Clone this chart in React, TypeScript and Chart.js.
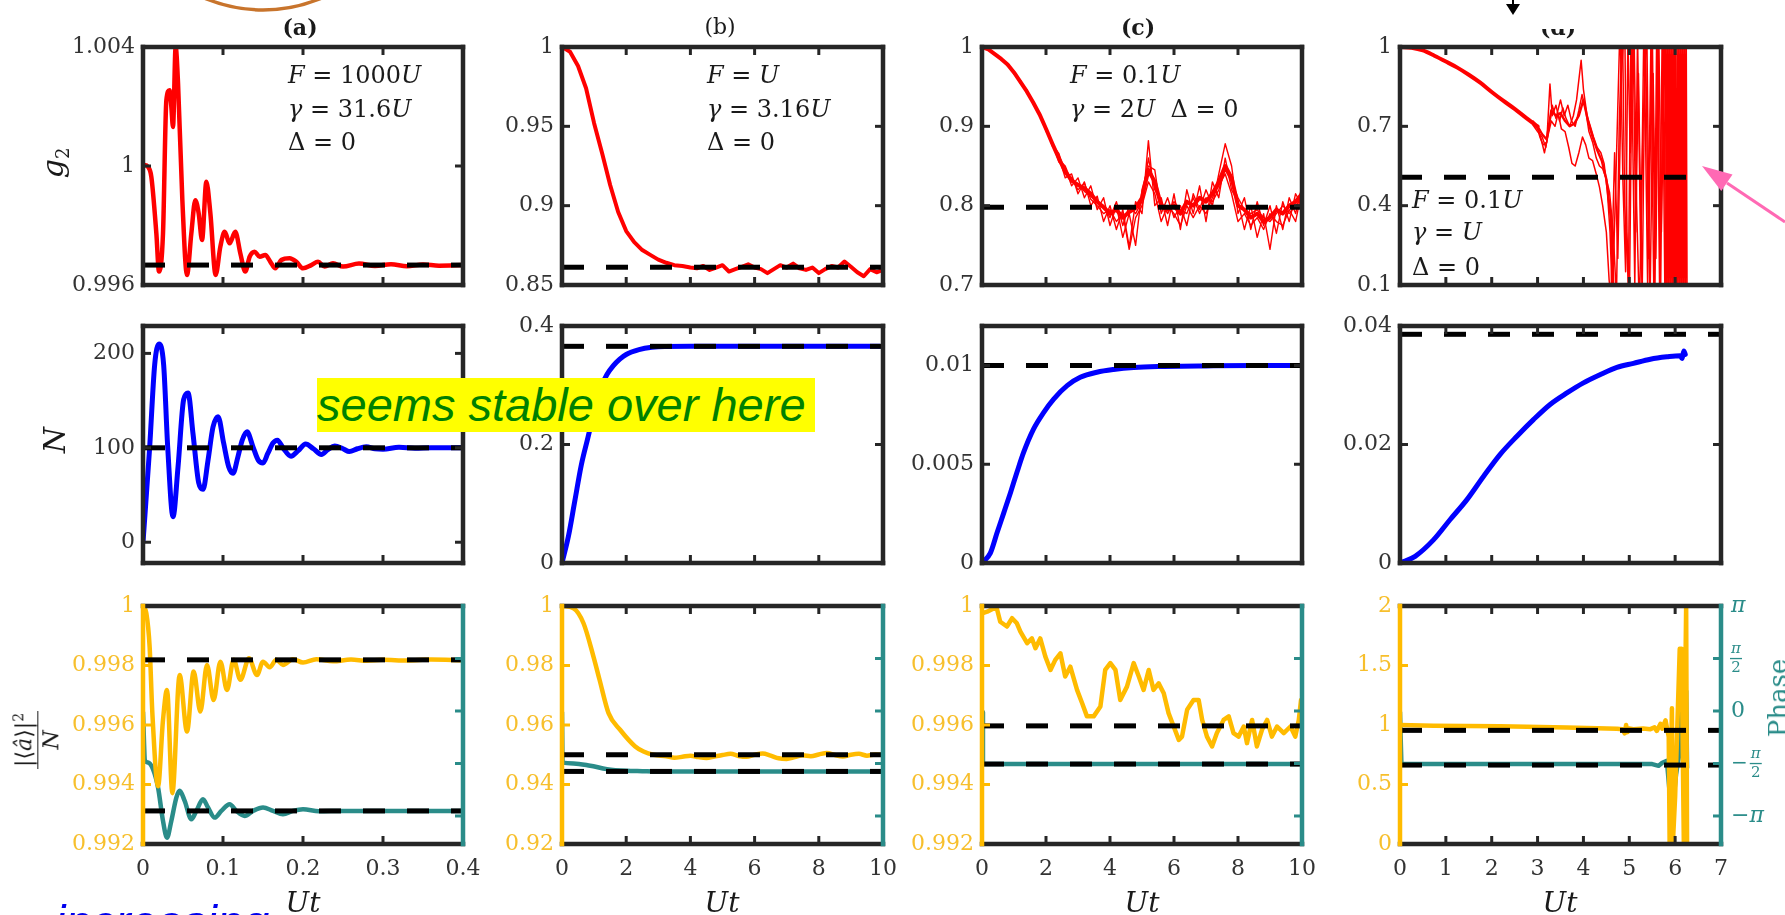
import React, { useEffect, useRef } from "react";
import { Chart, registerables } from "chart.js";

Chart.register(...registerables);

// ---------------- layout (plot boxes, px) ----------------
const COL_L = [143, 562, 982, 1400];
const COL_R = [463, 883, 1302, 1721];
const ROW_T = [47, 326, 606];
const ROW_B = [285, 563, 844];
const PL = 100, PR = 70, PT = 22, PB = 52;

const RED = "#ff0000", BLUE = "#0000ff", YEL = "#ffbb00", YEL_TXT = "#f7bf2c", TEAL = "#2a8c89";
const FRAME = "#262626", TXT = "#333333", INK = "#1a1a1a", BLACK = "#000000";
const SERIF = '"DejaVu Serif", serif';
const PI = Math.PI;

// ---------------- ticks ----------------
const xTicksA = [0, 0.1, 0.2, 0.3, 0.4];
const xLabelsA = ["0", "0.1", "0.2", "0.3", "0.4"];
const xTicksBC = [0, 2, 4, 6, 8, 10];
const xLabelsBC = ["0", "2", "4", "6", "8", "10"];
const xTicksD = [0, 1, 2, 3, 4, 5, 6, 7];
const xLabelsD = ["0", "1", "2", "3", "4", "5", "6", "7"];

const yTicksA1 = [0.996, 1, 1.004], yLabelsA1 = ["0.996", "1", "1.004"];
const yTicksB1 = [0.85, 0.9, 0.95, 1], yLabelsB1 = ["0.85", "0.9", "0.95", "1"];
const yTicksC1 = [0.7, 0.8, 0.9, 1], yLabelsC1 = ["0.7", "0.8", "0.9", "1"];
const yTicksD1 = [0.1, 0.4, 0.7, 1], yLabelsD1 = ["0.1", "0.4", "0.7", "1"];
const yTicksA2 = [0, 100, 200], yLabelsA2 = ["0", "100", "200"];
const yTicksB2 = [0, 0.2, 0.4], yLabelsB2 = ["0", "0.2", "0.4"];
const yTicksC2 = [0, 0.005, 0.01], yLabelsC2 = ["0", "0.005", "0.01"];
const yTicksD2 = [0, 0.02, 0.04], yLabelsD2 = ["0", "0.02", "0.04"];
const yTicksA3 = [0.992, 0.994, 0.996, 0.998, 1], yLabelsA3 = ["0.992", "0.994", "0.996", "0.998", "1"];
const yTicksB3 = [0.92, 0.94, 0.96, 0.98, 1], yLabelsB3 = ["0.92", "0.94", "0.96", "0.98", "1"];
const yTicksD3 = [0, 0.5, 1, 1.5, 2], yLabelsD3 = ["0", "0.5", "1", "1.5", "2"];
const phaseTicks = [PI, PI / 2, 0, -PI / 2, -PI];
const phaseLabels = ["π", "π/2", "0", "−π/2", "−π"];
const PHASE_MIN = -3.98;

// ---------------- reference (dashed) levels ----------------
const refA1 = 0.99667, refB1 = 0.8612, refC1 = 0.798, refD1 = 0.507;
const refA2 = 100, refB2 = 0.3657, refC2 = 0.01, refD2 = 0.0386;
const refA3y = 0.99819, refA3p = -2.99, refB3y = 0.95, refB3p = -1.808;
const refC3y = 0.99597, refC3p = -1.588, refD3y = 0.955, refD3p = -1.618;

// ---------------- (a) g2 ----------------
const tA1 = [0, 0.0021, 0.0063, 0.0104, 0.0167, 0.02, 0.025, 0.0292, 0.0333, 0.0354, 0.0375, 0.0408, 0.0438, 0.0492, 0.055, 0.0604, 0.0654, 0.0696, 0.0738, 0.0792, 0.0842, 0.0908, 0.0967, 0.1021, 0.1083, 0.1154, 0.1217, 0.1279, 0.1333, 0.1396, 0.1458, 0.1529, 0.1592, 0.1654, 0.1729, 0.1833, 0.1917, 0.2, 0.2104, 0.2188, 0.2271, 0.2375, 0.25, 0.27, 0.29, 0.31, 0.33, 0.35, 0.37, 0.4];
const gA1 = [0.99998, 1.00003, 0.99997, 0.99964, 0.99773, 0.99645, 0.99773, 1.00221, 1.00255, 1.002, 1.00131, 1.004, 1.00277, 0.99885, 0.99634, 0.99773, 0.99885, 0.99841, 0.99751, 0.99947, 0.99841, 0.99634, 0.99729, 0.99779, 0.9974, 0.99779, 0.99706, 0.99645, 0.99695, 0.99712, 0.99695, 0.99701, 0.99678, 0.99656, 0.99684, 0.9969, 0.99678, 0.99656, 0.99667, 0.99678, 0.99662, 0.99673, 0.99662, 0.99672, 0.99664, 0.9967, 0.99663, 0.99669, 0.99665, 0.99667];

// ---------------- (b) g2 ----------------
const tB1 = [0, 0.25, 0.5, 0.75, 1, 1.25, 1.5, 1.75, 2, 2.25, 2.5, 2.75, 3, 3.25, 3.5, 3.75, 4, 4.2, 4.4, 4.6, 4.8, 5, 5.2, 5.4, 5.6, 5.8, 6, 6.2, 6.4, 6.6, 6.8, 7, 7.2, 7.4, 7.6, 7.8, 8, 8.2, 8.4, 8.6, 8.8, 9, 9.2, 9.4, 9.6, 9.8, 10];
const gB1 = [1.0, 0.997, 0.988, 0.974, 0.952, 0.933, 0.913, 0.896, 0.884, 0.877, 0.872, 0.869, 0.866, 0.864, 0.8625, 0.862, 0.861, 0.8605, 0.862, 0.8595, 0.861, 0.8625, 0.8585, 0.86, 0.8615, 0.863, 0.861, 0.86, 0.8575, 0.86, 0.8625, 0.861, 0.8635, 0.8605, 0.8595, 0.861, 0.8575, 0.86, 0.862, 0.861, 0.8648, 0.8615, 0.858, 0.8555, 0.86, 0.858, 0.8595];

// ---------------- (c) g2 : mean + trajectories ----------------
const tC1 = [0, 0.2, 0.4, 0.6, 0.8, 1, 1.2, 1.4, 1.6, 1.8, 2, 2.2, 2.4, 2.6, 2.8, 3, 3.2, 3.4, 3.6, 3.8, 4, 4.2, 4.4, 4.6, 4.8, 5, 5.2, 5.4, 5.6, 5.8, 6, 6.2, 6.4, 6.6, 6.8, 7, 7.2, 7.4, 7.6, 7.8, 8, 8.2, 8.4, 8.6, 8.8, 9, 9.2, 9.4, 9.6, 9.8, 10];
const gC1mean = [1.0, 0.997, 0.991, 0.985, 0.978, 0.968, 0.956, 0.944, 0.93, 0.915, 0.897, 0.878, 0.86, 0.843, 0.832, 0.826, 0.822, 0.815, 0.805, 0.798, 0.79, 0.795, 0.785, 0.792, 0.797, 0.81, 0.845, 0.83, 0.8, 0.795, 0.8, 0.79, 0.805, 0.8, 0.81, 0.805, 0.815, 0.83, 0.85, 0.835, 0.8, 0.795, 0.785, 0.79, 0.78, 0.785, 0.795, 0.79, 0.8, 0.805, 0.815];
const gC1tr1 = [1.0, 0.996, 0.992, 0.984, 0.979, 0.967, 0.957, 0.942, 0.932, 0.913, 0.899, 0.875, 0.862, 0.835, 0.84, 0.815, 0.83, 0.8, 0.812, 0.78, 0.8, 0.77, 0.795, 0.748, 0.805, 0.79, 0.882, 0.8, 0.81, 0.775, 0.815, 0.77, 0.82, 0.79, 0.825, 0.78, 0.83, 0.81, 0.86, 0.82, 0.805, 0.77, 0.8, 0.76, 0.79, 0.745, 0.8, 0.77, 0.81, 0.79, 0.825];
const gC1tr2 = [1.0, 0.998, 0.99, 0.986, 0.976, 0.969, 0.954, 0.945, 0.928, 0.917, 0.894, 0.88, 0.855, 0.848, 0.825, 0.835, 0.81, 0.825, 0.795, 0.81, 0.775, 0.8, 0.76, 0.79, 0.75, 0.82, 0.85, 0.845, 0.79, 0.81, 0.785, 0.8, 0.775, 0.815, 0.795, 0.82, 0.8, 0.84, 0.878, 0.85, 0.79, 0.81, 0.77, 0.805, 0.775, 0.8, 0.765, 0.805, 0.78, 0.815, 0.8];
const gC1tr3 = [1.0, 0.997, 0.991, 0.985, 0.978, 0.966, 0.958, 0.943, 0.931, 0.914, 0.898, 0.877, 0.866, 0.84, 0.835, 0.82, 0.828, 0.808, 0.8, 0.79, 0.795, 0.78, 0.79, 0.745, 0.785, 0.8, 0.83, 0.815, 0.78, 0.8, 0.79, 0.775, 0.8, 0.785, 0.8, 0.79, 0.81, 0.825, 0.84, 0.815, 0.78, 0.79, 0.775, 0.785, 0.77, 0.79, 0.78, 0.775, 0.795, 0.78, 0.82];
const gC1tr4 = [1.0, 0.997, 0.99, 0.985, 0.977, 0.969, 0.955, 0.946, 0.929, 0.916, 0.896, 0.879, 0.858, 0.85, 0.83, 0.828, 0.818, 0.812, 0.805, 0.8, 0.785, 0.805, 0.775, 0.8, 0.79, 0.805, 0.86, 0.82, 0.805, 0.79, 0.805, 0.795, 0.79, 0.81, 0.79, 0.81, 0.805, 0.82, 0.845, 0.83, 0.81, 0.795, 0.79, 0.795, 0.785, 0.78, 0.79, 0.8, 0.79, 0.8, 0.81];

// ---------------- (d) g2 : mean + trajectories ----------------
const tD1s = [0, 0.25, 0.5, 0.75, 1, 1.25, 1.5, 1.75, 2, 2.25, 2.5, 2.75, 3];
const gD1s = [1, 0.997, 0.987, 0.967, 0.945, 0.922, 0.895, 0.865, 0.83, 0.797, 0.766, 0.732, 0.7];
const tD1t0 = [3, 3.1, 3.2, 3.3, 3.4, 3.5, 3.6, 3.7, 3.8, 3.9, 4, 4.1, 4.2, 4.3, 4.4, 4.5, 4.6, 4.65];
const gD1t0 = [0.7, 0.67, 0.65, 0.76, 0.74, 0.75, 0.72, 0.7, 0.71, 0.74, 0.8, 0.72, 0.66, 0.61, 0.57, 0.5, 0.35, 0.1];
const tD1a = [2.9, 3.0, 3.05, 3.12, 3.2, 3.27, 3.32, 3.4, 3.48, 3.55, 3.62, 3.7, 3.78, 3.85, 3.95, 4.0, 4.08, 4.15, 4.22, 4.3, 4.38, 4.45, 4.52, 4.58, 4.63, 4.7, 4.8, 4.86, 4.92, 4.97, 5.02, 5.08, 5.14, 5.2, 5.28, 5.35, 5.42, 5.5, 5.56, 5.62, 5.68, 5.74, 5.8];
const gD1a = [0.71, 0.69, 0.66, 0.63, 0.64, 0.86, 0.74, 0.78, 0.72, 0.77, 0.73, 0.7, 0.74, 0.8, 0.95, 0.84, 0.74, 0.7, 0.66, 0.62, 0.6, 0.56, 0.46, 0.3, 0.05, 0.45, 1.1, 0.5, 0.15, 1.05, 0.6, 1.1, 0.3, 0.9, 0.05, 1.1, 0.2, 1.1, 0.1, 1.05, 0.0, 1.1, 0.05];
const tD1b = [2.9, 3.0, 3.08, 3.15, 3.22, 3.3, 3.38, 3.45, 3.52, 3.6, 3.68, 3.75, 3.82, 3.9, 3.98, 4.05, 4.12, 4.2, 4.28, 4.35, 4.42, 4.5, 4.56, 4.6, 4.68, 4.75, 4.83, 4.9, 4.95, 5.0, 5.05, 5.1, 5.16, 5.22, 5.3, 5.38, 5.45, 5.52, 5.58, 5.64, 5.7, 5.78, 5.82];
const gD1b = [0.72, 0.7, 0.65, 0.6, 0.66, 0.72, 0.7, 0.75, 0.69, 0.68, 0.62, 0.56, 0.55, 0.6, 0.66, 0.63, 0.58, 0.57, 0.52, 0.47, 0.4, 0.3, 0.12, 0.05, 0.6, 0.2, 0.9, 1.1, 0.3, 0.0, 0.8, 1.1, 0.4, 0.0, 0.7, 1.1, 0.0, 0.9, 0.2, 1.1, 0.3, 1.1, 0.0];
const tD1c = [2.9, 3.0, 3.1, 3.18, 3.25, 3.32, 3.4, 3.5, 3.58, 3.66, 3.74, 3.82, 3.9, 3.97, 4.05, 4.12, 4.2, 4.28, 4.35, 4.42, 4.5, 4.57, 4.65, 4.72, 4.78, 4.85, 4.9, 4.98, 5.04, 5.12, 5.18, 5.25, 5.32, 5.4, 5.47, 5.54, 5.6, 5.66, 5.72, 5.78, 5.84];
const gD1c = [0.705, 0.68, 0.66, 0.62, 0.7, 0.78, 0.73, 0.8, 0.74, 0.78, 0.72, 0.7, 0.76, 0.82, 0.76, 0.68, 0.64, 0.58, 0.55, 0.54, 0.5, 0.45, 0.3, 0.05, 0.7, 1.1, 0.4, 0.1, 1.1, 0.1, 1.05, 0.2, 1.1, 0.1, 1.0, 0.0, 1.1, 0.1, 1.1, 0.0, 1.1];
const tD1w = [5.8, 5.82, 5.84, 5.86, 5.88, 5.9, 5.92, 5.94, 5.96, 5.98, 6.0, 6.02, 6.04, 6.06, 6.08, 6.1, 6.12, 6.14, 6.16, 6.18, 6.2, 6.22, 6.24, 6.26];
const gD1w = [1.1, 0.0, 1.1, 0.0, 1.1, 0.0, 1.1, 0.0, 1.1, 0.0, 1.1, 0.0, 1.1, 0.0, 1.1, 0.0, 1.1, 0.0, 1.1, 0.0, 1.1, 0.0, 1.1, 0.0];

// ---------------- N ----------------
const tA2 = [0, 0.0083, 0.0146, 0.02, 0.0258, 0.031, 0.0375, 0.0438, 0.0508, 0.0563, 0.0625, 0.0696, 0.075, 0.0813, 0.0875, 0.0938, 0.1008, 0.1071, 0.1125, 0.1188, 0.124, 0.13, 0.1375, 0.144, 0.15, 0.156, 0.1625, 0.168, 0.175, 0.185, 0.194, 0.2033, 0.213, 0.223, 0.231, 0.2396, 0.25, 0.258, 0.268, 0.279, 0.29, 0.3, 0.32, 0.34, 0.36, 0.4];
const nA2 = [0, 100, 188, 210, 188, 99, 27, 80, 151, 158, 115, 63, 56, 87, 122, 133, 105, 80, 73, 91, 108, 117, 101, 87, 84, 94, 105, 108, 100, 91, 97, 104, 99, 93, 98, 102, 99, 96, 99, 101, 99, 98.5, 100.5, 99.5, 100, 100];
const tB2 = [0, 0.2, 0.4, 0.6, 0.8, 1.0, 1.2, 1.4, 1.6, 1.8, 2.0, 2.4, 2.8, 3.2, 4, 9.9];
const nB2 = [0, 0.045, 0.105, 0.165, 0.21, 0.255, 0.295, 0.318, 0.333, 0.344, 0.352, 0.36, 0.364, 0.3655, 0.3657, 0.3657];
const tC2 = [0, 0.26, 0.47, 0.68, 0.89, 1.09, 1.3, 1.61, 1.93, 2.24, 2.66, 3.07, 3.59, 4.11, 4.74, 5.68, 7, 8.5, 10];
const nC2 = [0, 0.0005, 0.00153, 0.00254, 0.00356, 0.00458, 0.0056, 0.00678, 0.00763, 0.0083, 0.00898, 0.0094, 0.00966, 0.0098, 0.0099, 0.00995, 0.00998, 0.01, 0.01];
const tD2 = [0, 0.33, 0.73, 1.09, 1.46, 1.82, 2.18, 2.55, 2.91, 3.28, 3.64, 4.0, 4.37, 4.73, 5.09, 5.46, 5.82, 6.11, 6.15, 6.19, 6.22];
const nD2 = [0, 0.00113, 0.0039, 0.0073, 0.0107, 0.0146, 0.0183, 0.0214, 0.0242, 0.0268, 0.0287, 0.0304, 0.0318, 0.033, 0.0337, 0.0344, 0.0348, 0.035, 0.0345, 0.0358, 0.0352];

// ---------------- |<a>|^2/N (yellow) and phase (teal) ----------------
const tA3y = [0, 0.0042, 0.0083, 0.0117, 0.0188, 0.025, 0.03, 0.0367, 0.0458, 0.055, 0.0633, 0.0717, 0.08, 0.0883, 0.0967, 0.105, 0.1133, 0.1217, 0.1325, 0.1425, 0.15, 0.1583, 0.1667, 0.175, 0.1875, 0.2, 0.2167, 0.2375, 0.26, 0.28, 0.3, 0.33, 0.36, 0.4];
const vA3y = [1.0, 0.99975, 0.99863, 0.9964, 0.99394, 0.99617, 0.99718, 0.99371, 0.99768, 0.99578, 0.9978, 0.99645, 0.99802, 0.99684, 0.99813, 0.99718, 0.99819, 0.99752, 0.99824, 0.99768, 0.99813, 0.99794, 0.99819, 0.99802, 0.99821, 0.9981, 0.99821, 0.99814, 0.9982, 0.99816, 0.99819, 0.99817, 0.9982, 0.99818];
const tA3p = [0, 0.0025, 0.0063, 0.0125, 0.0188, 0.025, 0.03, 0.0354, 0.0417, 0.0458, 0.0521, 0.0604, 0.0667, 0.075, 0.0813, 0.0896, 0.0979, 0.1083, 0.1167, 0.1271, 0.1375, 0.15, 0.1625, 0.175, 0.1875, 0.2, 0.22, 0.25, 0.3, 0.4];
const pA3 = [-0.035, -1.488, -1.54, -1.74, -2.29, -3.29, -3.79, -3.29, -2.59, -2.39, -2.69, -3.24, -2.99, -2.64, -2.89, -3.19, -2.99, -2.79, -2.99, -3.14, -2.99, -2.89, -2.99, -3.09, -2.99, -2.94, -3.0, -2.99, -2.99, -2.99];

const tB3y = [0, 0.36, 0.67, 0.98, 1.17, 1.45, 1.81, 2.28, 2.54, 2.85, 3.25, 3.5, 3.75, 4, 4.25, 4.5, 4.75, 5, 5.25, 5.5, 5.75, 6, 6.25, 6.5, 6.75, 7, 7.25, 7.5, 7.75, 8, 8.25, 8.5, 8.75, 9, 9.25, 9.5, 9.75, 10];
const vB3y = [1.0, 0.9992, 0.9942, 0.983, 0.9752, 0.964, 0.9584, 0.9528, 0.9511, 0.95, 0.9495, 0.949, 0.9493, 0.9497, 0.9492, 0.9489, 0.9494, 0.9499, 0.9503, 0.9496, 0.9493, 0.95, 0.9504, 0.9497, 0.9488, 0.9486, 0.9492, 0.9498, 0.9495, 0.9501, 0.9506, 0.9499, 0.9494, 0.95, 0.9503, 0.9497, 0.9501, 0.9499];
const tB3p = [0, 0.02, 0.36, 0.88, 1.4, 2.0, 2.5, 3, 10];
const pB3 = [-0.035, -1.538, -1.568, -1.638, -1.74, -1.79, -1.8, -1.808, -1.808];

const tC3y = [0, 0.16, 0.36, 0.47, 0.57, 0.78, 0.94, 1.09, 1.2, 1.41, 1.56, 1.67, 1.82, 1.98, 2.14, 2.29, 2.45, 2.6, 2.76, 2.97, 3.13, 3.28, 3.49, 3.7, 3.85, 4.01, 4.17, 4.32, 4.53, 4.74, 4.9, 5.05, 5.21, 5.36, 5.52, 5.68, 5.83, 5.99, 6.15, 6.25, 6.41, 6.61, 6.77, 6.88, 7.03, 7.19, 7.34, 7.55, 7.71, 7.86, 8.02, 8.18, 8.28, 8.44, 8.59, 8.75, 8.91, 9.06, 9.22, 9.43, 9.64, 9.79, 9.9, 9.97];
const vC3y = [0.99975, 0.99981, 0.99992, 0.99989, 0.99947, 0.99931, 0.99959, 0.99942, 0.99914, 0.99875, 0.99891, 0.99858, 0.99891, 0.9983, 0.99785, 0.99819, 0.99841, 0.99763, 0.99796, 0.99718, 0.99673, 0.99629, 0.99629, 0.99662, 0.99785, 0.99808, 0.99785, 0.99684, 0.99729, 0.99808, 0.99763, 0.99718, 0.99785, 0.99718, 0.9974, 0.99707, 0.9964, 0.99595, 0.9955, 0.99561, 0.99651, 0.99684, 0.99684, 0.99617, 0.99561, 0.99528, 0.99573, 0.99617, 0.99629, 0.99573, 0.99561, 0.99595, 0.99539, 0.99617, 0.99528, 0.99584, 0.99617, 0.99561, 0.99595, 0.99573, 0.99595, 0.99561, 0.99617, 0.99684];
const tC3p = [0, 0.03, 10];
const pC3 = [-0.035, -1.588, -1.588];

const tD3y = [0, 0.73, 2.18, 3.64, 4.73, 4.85, 4.9, 4.93, 4.96, 5.0, 5.09, 5.3, 5.46, 5.55, 5.6, 5.68, 5.72, 5.79, 5.82, 5.86, 5.88, 5.93, 5.95, 6.0, 6.1, 6.12, 6.14, 6.19, 6.21, 6.24, 6.26];
const vD3y = [1.0, 0.994, 0.989, 0.98, 0.969, 0.965, 0.93, 1.0, 0.94, 0.97, 0.965, 0.97, 0.965, 0.98, 0.95, 1.01, 0.97, 1.04, 0.98, 0.9, 0.0, 1.14, 0.0, 0.4, 1.64, 1.35, 1.64, 0.0, 1.0, 2.0, 0.0];
const tD3p = [0, 0.03, 5.5, 5.64, 5.72, 5.82, 5.88, 5.91, 5.95, 5.98, 6.02, 6.1, 6.19, 6.21, 6.24, 6.26];
const pD3 = [-0.035, -1.588, -1.588, -1.64, -1.55, -1.49, -2.44, -1.5, -1.7, -2.44, -1.9, -1.2, 1.47, -2.39, 0.6, -1.7];

// ---------------- types & helpers ----------------
type Series = { xs: number[]; ys: number[]; color: string; width: number; dash?: boolean; smooth?: boolean; axis?: "y" | "y2" };
type Spec = {
  col: number; row: number;
  xMin: number; xMax: number; xTicks: number[]; xLabels?: string[];
  yMin: number; yMax: number; yTicks: number[]; yLabels: string[];
  y2?: { min: number; max: number; ticks: number[]; labels?: string[] };
  series: Series[];
};

const ref = (x0: number, x1: number, v: number, axis: "y" | "y2" = "y"): Series => ({ xs: [x0, x1], ys: [v, v], color: BLACK, width: 5, dash: true, axis });
const ln = (xs: number[], ys: number[], color: string, width: number, smooth = true, axis: "y" | "y2" = "y"): Series => ({ xs, ys, color, width, smooth, axis });

const PH = { min: PHASE_MIN, max: PI, ticks: phaseTicks };

const PANELS: Spec[] = [
  { col: 0, row: 0, xMin: 0, xMax: 0.4, xTicks: xTicksA, yMin: 0.996, yMax: 1.004, yTicks: yTicksA1, yLabels: yLabelsA1,
    series: [ref(0, 0.4, refA1), ln(tA1, gA1, RED, 4.5)] },
  { col: 1, row: 0, xMin: 0, xMax: 10, xTicks: xTicksBC, yMin: 0.85, yMax: 1, yTicks: yTicksB1, yLabels: yLabelsB1,
    series: [ref(0, 10, refB1), ln(tB1, gB1, RED, 4, false)] },
  { col: 2, row: 0, xMin: 0, xMax: 10, xTicks: xTicksBC, yMin: 0.7, yMax: 1, yTicks: yTicksC1, yLabels: yLabelsC1,
    series: [ref(0, 10, refC1), ln(tC1, gC1mean, RED, 4, false), ln(tC1, gC1tr1, RED, 1.4, false), ln(tC1, gC1tr2, RED, 1.4, false), ln(tC1, gC1tr3, RED, 1.4, false), ln(tC1, gC1tr4, RED, 1.4, false)] },
  { col: 3, row: 0, xMin: 0, xMax: 7, xTicks: xTicksD, yMin: 0.1, yMax: 1, yTicks: yTicksD1, yLabels: yLabelsD1,
    series: [ref(0, 6.35, refD1), ln(tD1s, gD1s, RED, 4), ln(tD1t0, gD1t0, RED, 2.4, false), ln(tD1a, gD1a, RED, 1.5, false), ln(tD1b, gD1b, RED, 1.5, false), ln(tD1c, gD1c, RED, 1.5, false), ln(tD1w, gD1w, RED, 1.6, false)] },

  { col: 0, row: 1, xMin: 0, xMax: 0.4, xTicks: xTicksA, yMin: -22, yMax: 229, yTicks: yTicksA2, yLabels: yLabelsA2,
    series: [ref(0, 0.4, refA2), ln(tA2, nA2, BLUE, 5)] },
  { col: 1, row: 1, xMin: 0, xMax: 10, xTicks: xTicksBC, yMin: 0, yMax: 0.4, yTicks: yTicksB2, yLabels: yLabelsB2,
    series: [ref(0, 10, refB2), ln(tB2, nB2, BLUE, 5)] },
  { col: 2, row: 1, xMin: 0, xMax: 10, xTicks: xTicksBC, yMin: 0, yMax: 0.012, yTicks: yTicksC2, yLabels: yLabelsC2,
    series: [ref(0, 10, refC2), ln(tC2, nC2, BLUE, 5)] },
  { col: 3, row: 1, xMin: 0, xMax: 7, xTicks: xTicksD, yMin: 0, yMax: 0.04, yTicks: yTicksD2, yLabels: yLabelsD2,
    series: [ref(0, 7, refD2), ln(tD2, nD2, BLUE, 5)] },

  { col: 0, row: 2, xMin: 0, xMax: 0.4, xTicks: xTicksA, xLabels: xLabelsA, yMin: 0.992, yMax: 1, yTicks: yTicksA3, yLabels: yLabelsA3, y2: PH,
    series: [ref(0, 0.4, refA3y), ref(0, 0.4, refA3p, "y2"), ln(tA3y, vA3y, YEL, 4.5), ln(tA3p, pA3, TEAL, 4.5, true, "y2")] },
  { col: 1, row: 2, xMin: 0, xMax: 10, xTicks: xTicksBC, xLabels: xLabelsBC, yMin: 0.92, yMax: 1, yTicks: yTicksB3, yLabels: yLabelsB3, y2: PH,
    series: [ref(0, 10, refB3y), ref(0, 10, refB3p, "y2"), ln(tB3y, vB3y, YEL, 4.5), ln(tB3p, pB3, TEAL, 4.5, true, "y2")] },
  { col: 2, row: 2, xMin: 0, xMax: 10, xTicks: xTicksBC, xLabels: xLabelsBC, yMin: 0.992, yMax: 1, yTicks: yTicksA3, yLabels: yLabelsA3, y2: PH,
    series: [ref(0, 10, refC3y), ref(0, 10, refC3p, "y2"), ln(tC3y, vC3y, YEL, 4.5, false), ln(tC3p, pC3, TEAL, 4.5, false, "y2")] },
  { col: 3, row: 2, xMin: 0, xMax: 7, xTicks: xTicksD, xLabels: xLabelsD, yMin: 0, yMax: 2, yTicks: yTicksD3, yLabels: yLabelsD3, y2: { ...PH, labels: phaseLabels },
    series: [ref(0, 7, refD3y), ref(0, 7, refD3p, "y2"), ln(tD3y, vD3y, YEL, 4.5, false), ln(tD3p, pD3, TEAL, 4.5, false, "y2")] },
];

function makeFrame(s: Spec) {
  const lower = s.row === 2;
  const c = lower ? { top: FRAME, bottom: FRAME, left: YEL, right: TEAL } : { top: FRAME, bottom: FRAME, left: FRAME, right: FRAME };
  return {
    id: "frame",
    afterDatasetsDraw(chart: any) {
      const { ctx, chartArea: a, scales } = chart;
      const TL = 8;
      const seg = (x1: number, y1: number, x2: number, y2: number, col: string, w: number) => {
        ctx.strokeStyle = col; ctx.lineWidth = w; ctx.beginPath(); ctx.moveTo(x1, y1); ctx.lineTo(x2, y2); ctx.stroke();
      };
      ctx.save();
      ctx.lineCap = "butt";
      for (const v of s.xTicks) {
        const px = scales.x.getPixelForValue(v);
        seg(px, a.bottom, px, a.bottom - TL, c.bottom, 3);
        seg(px, a.top, px, a.top + TL, c.top, 3);
      }
      for (const v of s.yTicks) {
        const py = scales.y.getPixelForValue(v);
        seg(a.left, py, a.left + TL, py, c.left, 3);
        if (!s.y2) seg(a.right, py, a.right - TL, py, c.right, 3);
      }
      if (s.y2) {
        for (const v of s.y2.ticks) {
          const py = scales.y2.getPixelForValue(v);
          seg(a.right, py, a.right - TL, py, c.right, 3);
        }
      }
      const W = 4.5, h = W / 2;
      seg(a.left - h, a.top, a.right + h, a.top, c.top, W);
      seg(a.left - h, a.bottom, a.right + h, a.bottom, c.bottom, W);
      seg(a.left, a.top - h, a.left, a.bottom + h, c.left, W);
      seg(a.right, a.top - h, a.right, a.bottom + h, c.right, W);
      if (s.y2 && s.y2.labels) {
        ctx.fillStyle = TEAL;
        ctx.textBaseline = "middle";
        s.y2.ticks.forEach((v, i) => {
          const lab = s.y2!.labels![i];
          const py = scales.y2.getPixelForValue(v);
          let x = a.right + 10;
          ctx.textAlign = "left";
          if (lab.includes("/")) {
            let [num, den] = lab.split("/");
            if (num.startsWith("−")) {
              ctx.font = `20px ${SERIF}`;
              ctx.fillText("−", x, py);
              x += ctx.measureText("−").width + 3;
              num = num.slice(1);
            }
            ctx.font = `italic 15px ${SERIF}`;
            const w = Math.max(ctx.measureText(num).width, 10);
            ctx.textAlign = "center";
            ctx.fillText(num, x + w / 2, py - 9);
            ctx.font = `15px ${SERIF}`;
            ctx.fillText(den, x + w / 2, py + 10);
            ctx.fillRect(x - 1, py - 0.6, w + 2, 1.3);
          } else {
            ctx.font = lab === "0" ? `22px ${SERIF}` : `italic 22px ${SERIF}`;
            ctx.fillText(lab, x, py);
          }
        });
      }
      ctx.restore();
    },
  };
}

function makeConfig(s: Spec): any {
  const lower = s.row === 2;
  const tickFont = { family: "DejaVu Serif", size: 22 };
  const scales: any = {
    x: {
      type: "linear", min: s.xMin, max: s.xMax,
      afterBuildTicks: (ax: any) => { ax.ticks = s.xTicks.map((v) => ({ value: v })); },
      afterFit: (ax: any) => { ax.height = PB; },
      grid: { display: false, drawTicks: false }, border: { display: false },
      ticks: { display: !!s.xLabels, autoSkip: false, maxRotation: 0, font: tickFont, color: TXT, padding: 12,
        callback: (_v: any, i: number) => (s.xLabels ? s.xLabels[i] : "") },
    },
    y: {
      type: "linear", position: "left", min: s.yMin, max: s.yMax,
      afterBuildTicks: (ax: any) => { ax.ticks = s.yTicks.map((v) => ({ value: v })); },
      afterFit: (ax: any) => { ax.width = PL; },
      grid: { display: false, drawTicks: false }, border: { display: false },
      ticks: { autoSkip: false, font: tickFont, color: lower ? YEL_TXT : TXT, padding: 8, callback: (_v: any, i: number) => s.yLabels[i] },
    },
  };
  if (s.y2) {
    scales.y2 = {
      type: "linear", position: "right", min: s.y2.min, max: s.y2.max,
      afterBuildTicks: (ax: any) => { ax.ticks = s.y2!.ticks.map((v) => ({ value: v })); },
      afterFit: (ax: any) => { ax.width = PR; },
      grid: { display: false, drawTicks: false }, border: { display: false },
      ticks: { display: false },
    };
  }
  const datasets = s.series.map((d) => ({
    data: d.xs.map((x, i) => ({ x, y: d.ys[i] })),
    borderColor: d.color,
    backgroundColor: d.color,
    borderWidth: d.width,
    borderDash: d.dash ? [22, 22] : [],
    borderCapStyle: d.dash ? "butt" : "round",
    borderJoinStyle: "round",
    pointRadius: 0,
    fill: false,
    tension: 0,
    cubicInterpolationMode: d.smooth ? "monotone" : "default",
    yAxisID: d.axis || "y",
    order: d.dash ? 0 : 1,
  }));
  return {
    type: "line",
    data: { datasets },
    options: {
      animation: false,
      responsive: false,
      devicePixelRatio: 1,
      events: [],
      layout: { padding: { top: PT, left: 0, bottom: 0, right: s.y2 ? 0 : PR } },
      plugins: { legend: { display: false }, tooltip: { enabled: false }, title: { display: false } },
      scales,
    },
    plugins: [makeFrame(s)],
  };
}

function Panel({ spec }: { spec: Spec }) {
  const ref = useRef<HTMLCanvasElement | null>(null);
  useEffect(() => {
    if (!ref.current) return;
    const chart = new Chart(ref.current, makeConfig(spec));
    return () => chart.destroy();
  }, [spec]);
  const L = COL_L[spec.col], R = COL_R[spec.col], T = ROW_T[spec.row], B = ROW_B[spec.row];
  const w = PL + (R - L) + PR, h = PT + (B - T) + PB;
  return <canvas ref={ref} width={w} height={h} style={{ position: "absolute", left: L - PL, top: T - PT, width: w, height: h }} />;
}

// ---------------- text overlays ----------------
const I = ({ children }: { children: any }) => <span style={{ fontStyle: "italic" }}>{children}</span>;

function Ann({ left, top, children }: { left: number; top: number; children: any }) {
  return (
    <div style={{ position: "absolute", left, top, fontFamily: SERIF, fontSize: 24, lineHeight: "24px", color: INK, whiteSpace: "nowrap" }}>
      {children}
    </div>
  );
}

function Center({ x, y, size, children, bold, color = INK, rotate = false, font = SERIF }: any) {
  return (
    <div style={{ position: "absolute", left: x, top: y, transform: `translate(-50%,-50%)${rotate ? " rotate(-90deg)" : ""}`, fontFamily: font, fontSize: size, lineHeight: 1, fontWeight: bold ? "bold" : "normal", color, whiteSpace: "nowrap" }}>
      {children}
    </div>
  );
}

const UT_X = [303, 722, 1142, 1560];

export default function App() {
  return (
    <div style={{ position: "fixed", left: 0, top: 0, width: 1785, height: 915, overflow: "hidden", background: "#ffffff" }}>
      {PANELS.map((p, i) => <Panel key={i} spec={p} />)}

      {/* panel titles */}
      <Center x={300} y={27} size={22} bold>(a)</Center>
      <Center x={720} y={27} size={22}>(b)</Center>
      <Center x={1138} y={27} size={22} bold>(c)</Center>
      <Center x={1558} y={27} size={22} bold>(d)</Center>
      <div style={{ position: "absolute", left: 1530, top: 0, width: 60, height: 29, background: "#fff" }} />

      {/* parameter annotations */}
      <Ann left={288} top={63}><I>F</I> = 1000<I>U</I></Ann>
      <Ann left={288} top={97}><I>γ</I> = 31.6<I>U</I></Ann>
      <Ann left={288} top={130}>Δ = 0</Ann>
      <Ann left={707} top={63}><I>F</I> = <I>U</I></Ann>
      <Ann left={707} top={97}><I>γ</I> = 3.16<I>U</I></Ann>
      <Ann left={707} top={130}>Δ = 0</Ann>
      <Ann left={1070} top={63}><I>F</I> = 0.1<I>U</I></Ann>
      <Ann left={1070} top={97}><I>γ</I> = 2<I>U</I>{"\u00a0\u00a0"}Δ = 0</Ann>
      <Ann left={1412} top={188}><I>F</I> = 0.1<I>U</I></Ann>
      <Ann left={1412} top={220}><I>γ</I> = <I>U</I></Ann>
      <Ann left={1412} top={255}>Δ = 0</Ann>

      {/* y-axis titles */}
      <Center x={55} y={163} size={30} rotate><I>g</I><span style={{ fontSize: 18, verticalAlign: "-6px" }}>2</span></Center>
      <Center x={55} y={440} size={30} rotate><I>N</I></Center>
      <Center x={37} y={740} size={22} rotate>
        <div style={{ display: "inline-flex", flexDirection: "column", alignItems: "center" }}>
          <span style={{ borderBottom: `1.5px solid ${INK}`, padding: "0 2px 2px 2px" }}>|⟨<I>â</I>⟩|<sup style={{ fontSize: 14 }}>2</sup></span>
          <span style={{ paddingTop: 2 }}><I>N</I></span>
        </div>
      </Center>
      <Center x={1778} y={698} size={26} rotate color={TEAL}>Phase</Center>

      {/* x-axis titles */}
      {UT_X.map((x, i) => <Center key={i} x={x} y={903} size={28}><I>Ut</I></Center>)}

      {/* overlaid markup */}
      <div style={{ position: "absolute", left: 317, top: 378, width: 498, height: 54, background: "#ffff00", color: "#008000", fontFamily: '"Liberation Sans", Arial, sans-serif', fontStyle: "italic", fontSize: 47, lineHeight: "54px", whiteSpace: "nowrap", overflow: "hidden" }}>
        seems stable over here
      </div>
      <div style={{ position: "absolute", left: 55, top: 898, color: "#0000ee", fontFamily: '"Liberation Sans", Arial, sans-serif', fontStyle: "italic", fontSize: 47, lineHeight: 1, whiteSpace: "nowrap" }}>
        increasing
      </div>
      <svg width={1785} height={915} style={{ position: "absolute", left: 0, top: 0, pointerEvents: "none" }}>
        <circle cx={263} cy={-140} r={150} fill="none" stroke="#c8742c" strokeWidth={3.5} />
        <line x1={1513} y1={0} x2={1513} y2={6} stroke="#000" strokeWidth={2} />
        <polygon points="1506,4 1520,4 1513,15" fill="#000" />
        <line x1={1785} y1={222} x2={1727} y2={183} stroke="#ff69b4" strokeWidth={3} />
        <polygon points="1702,166 1732.5,174.5 1721.3,191.1" fill="#ff69b4" />
      </svg>
    </div>
  );
}
